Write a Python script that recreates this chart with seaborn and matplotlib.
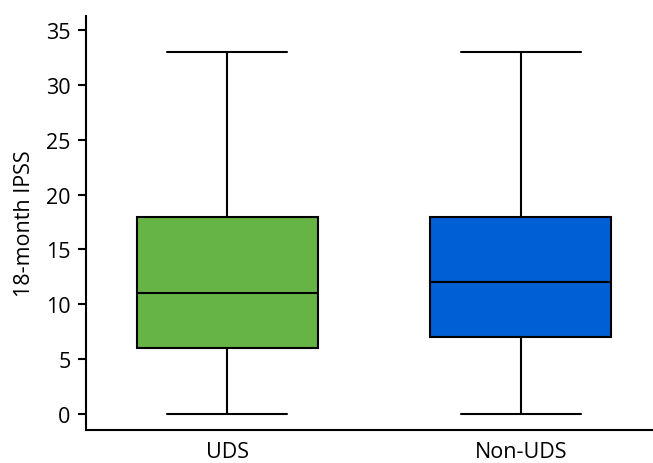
import matplotlib
matplotlib.use('Agg')
import matplotlib.pyplot as plt
import seaborn as sns
import pandas as pd

# five-number summaries (min, Q1, median, Q3, max)
groups = ['UDS', 'Non-UDS']
uds_vals = [0, 6, 11, 18, 33]
non_uds_vals = [0, 7, 12, 18, 33]
colors = ['#66b446', '#005fd4']

df = pd.DataFrame({
    'group': [groups[0]] * len(uds_vals) + [groups[1]] * len(non_uds_vals),
    'ipss': uds_vals + non_uds_vals,
})

sns.set_style('ticks')
plt.rcParams['font.family'] = ['Open Sans', 'DejaVu Sans']
plt.rcParams['text.color'] = 'black'
plt.rcParams['axes.labelcolor'] = 'black'
plt.rcParams['xtick.color'] = 'black'
plt.rcParams['ytick.color'] = 'black'

fig, ax = plt.subplots(figsize=(6.53, 4.64), dpi=100)
line = dict(color='black', linewidth=1.5)
sns.boxplot(data=df, x='group', y='ipss', hue='group', palette=colors,
            order=groups, whis=(0, 100), width=0.616, capwidths=0.41,
            saturation=1,
            boxprops=dict(edgecolor='black', linewidth=1.5),
            medianprops=line, whiskerprops=line, capprops=line,
            showfliers=False, legend=False, ax=ax)

ax.set_xlim(-0.48, 1.446)
ax.set_ylim(-1.46, 36.28)
ax.set_yticks(range(0, 36, 5))
ax.set_xlabel('')
ax.set_ylabel('18-month IPSS', fontsize=15.5, labelpad=8)
ax.tick_params(axis='y', labelsize=15.5, length=6, width=1.5, pad=5)
ax.tick_params(axis='x', labelsize=15.5, length=0, pad=8)
for s in ['left', 'bottom']:
    ax.spines[s].set_linewidth(1.5)
    ax.spines[s].set_color('black')
sns.despine(ax=ax)

fig.subplots_adjust(left=86/653, right=652/653, top=1-17/464, bottom=1-431/464)
fig.savefig('out.png', dpi=100)
